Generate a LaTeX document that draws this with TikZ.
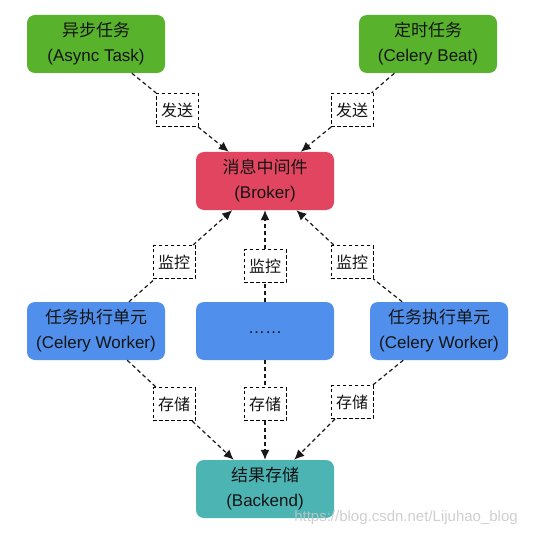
\documentclass[tikz,border=0pt]{standalone}
\usepackage{fontspec}
\setmainfont{Liberation Sans}
\newfontfamily\cjk{Noto Sans CJK SC}
\usetikzlibrary{arrows.meta}
\definecolor{cgreen}{RGB}{88,178,44}
\definecolor{cred}{RGB}{226,69,96}
\definecolor{cblue}{RGB}{80,144,236}
\definecolor{cteal}{RGB}{76,181,180}
\definecolor{ctext}{RGB}{20,20,20}
\tikzset{
  box/.style={rounded corners=8pt, minimum width=138pt, minimum height=58pt, inner sep=0pt,
    align=center, text=ctext, font=\fontsize{17}{25}\selectfont},
  lbl/.style={draw=black, dashed, line width=1pt, dash pattern=on 3.5pt off 2.5pt, fill=white,
    minimum width=42pt, minimum height=33pt, inner sep=0pt, text=ctext,
    font=\fontsize{16}{18}\selectfont\cjk},
  arr/.style={draw=black!90, line width=1.2pt, dash pattern=on 4pt off 3pt,
    -{Latex[length=10pt,width=9pt]}},
}
\begin{document}
\begin{tikzpicture}[x=1pt,y=-1pt]
\useasboundingbox (0,0) rectangle (534,537);
% main boxes
\node[box, fill=cgreen] (async) at (96,44) {{\cjk 异步任务}\\(Async Task)};
\node[box, fill=cgreen] (beat) at (428,44) {{\cjk 定时任务}\\(Celery Beat)};
\node[box, fill=cred] (broker) at (265,181) {{\cjk 消息中间件}\\(Broker)};
\node[box, fill=cblue] (w1) at (96,331) {{\cjk 任务执行单元}\\(Celery Worker)};
\node[box, fill=cblue] (wm) at (265,331) {\raisebox{-5pt}{……}};
\node[box, fill=cblue] (w2) at (439,331) {{\cjk 任务执行单元}\\(Celery Worker)};
\node[box, fill=cteal] (backend) at (265,489) {{\cjk 结果存储}\\(Backend)};
% label boxes
\node[lbl] (s1) at (177,110) {发送};
\node[lbl] (s2) at (352,110) {发送};
\node[lbl] (m1) at (174,262) {监控};
\node[lbl] (m2) at (265,266) {监控};
\node[lbl] (m3) at (352,262) {监控};
\node[lbl] (c1) at (174,404) {存储};
\node[lbl] (c2) at (265,404) {存储};
\node[lbl] (c3) at (352,402) {存储};
% connectors
\draw[arr] (async) -- (s1) -- (broker);
\draw[arr] (beat) -- (s2) -- (broker);
\draw[arr] (w1) -- (m1) -- (broker);
\draw[arr] (wm) -- (m2) -- (broker);
\draw[arr] (w2) -- (m3) -- (broker);
\draw[arr] (w1) -- (c1) -- (backend);
\draw[arr] (wm) -- (c2) -- (backend);
\draw[arr] (w2) -- (c3) -- (backend);
% watermark
\node[text=gray!45, opacity=0.85, font=\fontsize{15}{15}\selectfont, inner sep=0pt] (wmk) at (406,518) {https://blog.csdn.net/Lijuhao\_blog};
\end{tikzpicture}
\end{document}
